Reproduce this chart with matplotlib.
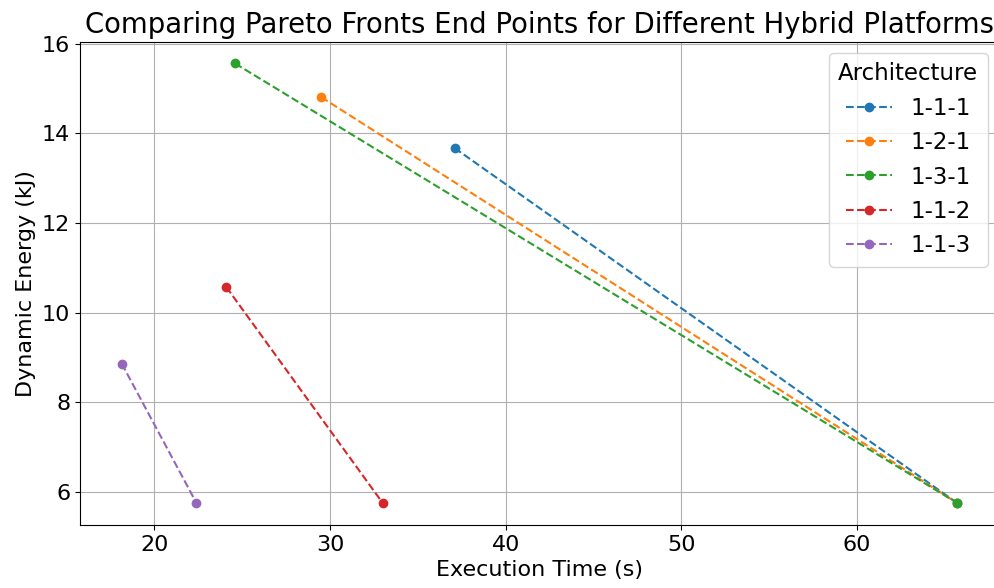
import matplotlib
matplotlib.use("Agg")
import matplotlib.pyplot as plt

# end points of each Pareto front: (fastest, most efficient)
architectures = ["1-1-1", "1-2-1", "1-3-1", "1-1-2", "1-1-3"]
exec_time = [
    [37.1, 65.7],
    [29.5, 65.7],
    [24.6, 65.7],
    [24.1, 33.0],
    [18.15, 22.4],
]
dyn_energy = [
    [13.67, 5.75],
    [14.81, 5.75],
    [15.56, 5.75],
    [10.57, 5.75],
    [8.86, 5.75],
]

plt.rcParams["font.size"] = 16

fig = plt.figure(figsize=(9.94, 5.88), dpi=100)
ax = fig.add_axes([80 / 994, 63 / 588, 919 / 994, 483.5 / 588])

for name, xs, ys in zip(architectures, exec_time, dyn_energy):
    ax.plot(xs, ys, marker="o", linestyle="--", label=name)

ax.set_title("Comparing Pareto Fronts End Points for Different Hybrid Platforms", fontsize=19.8)
ax.set_xlabel("Execution Time (s)")
ax.set_ylabel("Dynamic Energy (kJ)")
ax.grid(True)
ax.legend(title="Architecture", fontsize=16.5, title_fontsize=16.5)

fig.savefig("out.png", dpi=100)
